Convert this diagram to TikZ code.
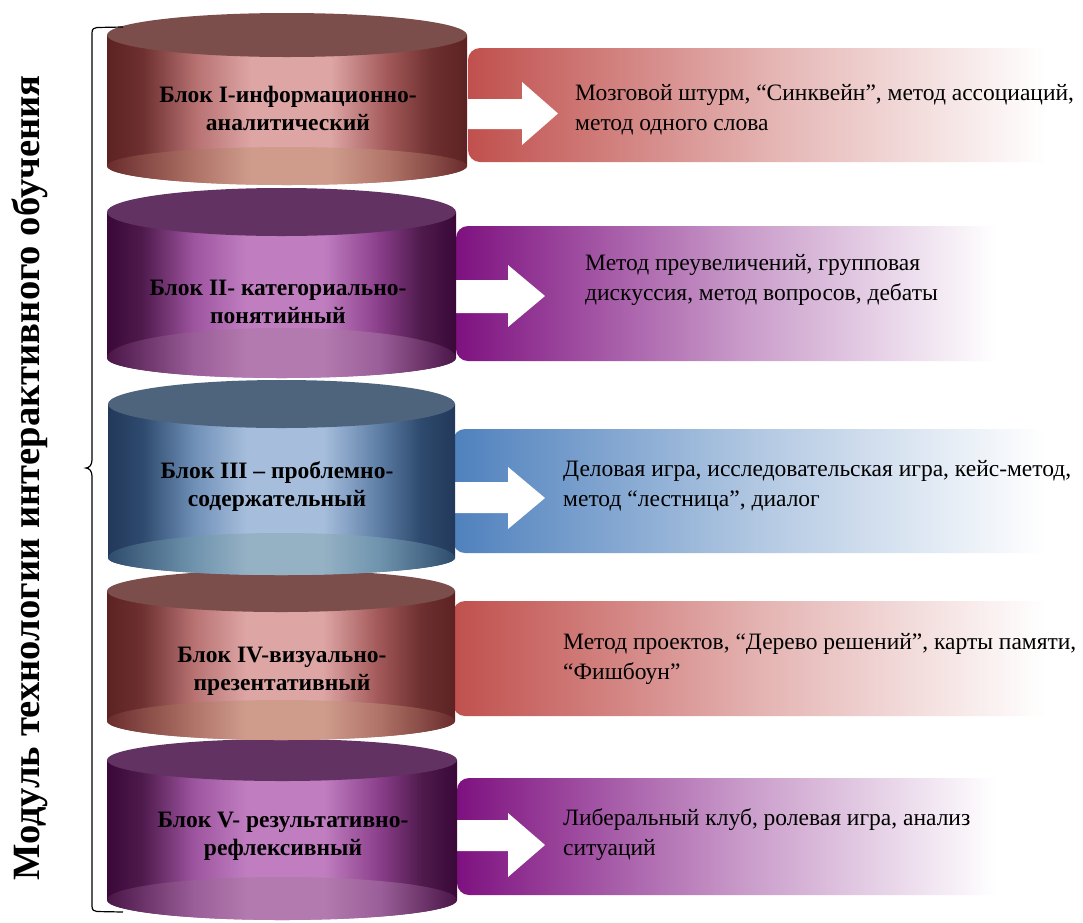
\documentclass[tikz,border=0pt]{standalone}
\usepackage{fontspec}
\setmainfont{Liberation Serif}
\definecolor{rdark}{HTML}{5C2222}
\definecolor{rdarkb}{HTML}{6E3030}
\definecolor{rmid}{HTML}{B87272}
\definecolor{rlight}{HTML}{DEA5A5}
\definecolor{rmidb}{HTML}{A25858}
\definecolor{rbdark}{HTML}{6A2C2C}
\definecolor{rbmid}{HTML}{B07468}
\definecolor{rblight}{HTML}{CF9C8C}
\definecolor{toprd}{HTML}{7B4D4B}
\definecolor{pdark}{HTML}{3A0938}
\definecolor{pdarkb}{HTML}{4E1A4C}
\definecolor{pmid}{HTML}{9E55A0}
\definecolor{plight}{HTML}{C07EC0}
\definecolor{pmidb}{HTML}{8A3E8A}
\definecolor{pbdark}{HTML}{4A1547}
\definecolor{pbmid}{HTML}{9A5E98}
\definecolor{pblight}{HTML}{B27AAE}
\definecolor{toppu}{HTML}{613262}
\definecolor{bdark}{HTML}{22395A}
\definecolor{bdarkb}{HTML}{2E4A6E}
\definecolor{bmid}{HTML}{7090B8}
\definecolor{blight}{HTML}{A6BEDC}
\definecolor{bmidb}{HTML}{5E7EA6}
\definecolor{bbdark}{HTML}{2E4C6D}
\definecolor{bbmid}{HTML}{7094AE}
\definecolor{bblight}{HTML}{95B1C4}
\definecolor{topbl}{HTML}{4E647C}
\definecolor{rectr}{HTML}{C0504D}
\definecolor{rectp}{HTML}{7E1180}
\definecolor{rectb}{HTML}{4F81BD}
\colorlet{rectrm}{rectr!42!white}
\colorlet{rectpm}{rectp!42!white}
\colorlet{rectbm}{rectb!42!white}
\pgfdeclarehorizontalshading{sidered}{100bp}{color(0bp)=(rdark); color(25bp)=(rdark); color(30bp)=(rdarkb); color(37.5bp)=(rmid); color(45bp)=(rlight); color(56bp)=(rlight); color(64bp)=(rmidb); color(70bp)=(rdarkb); color(75bp)=(rdark); color(100bp)=(rdark)}
\pgfdeclarehorizontalshading{bandred}{100bp}{color(0bp)=(rbdark); color(25bp)=(rbdark); color(37.5bp)=(rbmid); color(45bp)=(rblight); color(56bp)=(rblight); color(64bp)=(rbmid); color(75bp)=(rbdark); color(100bp)=(rbdark)}
\pgfdeclarehorizontalshading{sidepurple}{100bp}{color(0bp)=(pdark); color(25bp)=(pdark); color(30bp)=(pdarkb); color(37.5bp)=(pmid); color(45bp)=(plight); color(56bp)=(plight); color(64bp)=(pmidb); color(70bp)=(pdarkb); color(75bp)=(pdark); color(100bp)=(pdark)}
\pgfdeclarehorizontalshading{bandpurple}{100bp}{color(0bp)=(pbdark); color(25bp)=(pbdark); color(37.5bp)=(pbmid); color(45bp)=(pblight); color(56bp)=(pblight); color(64bp)=(pbmid); color(75bp)=(pbdark); color(100bp)=(pbdark)}
\pgfdeclarehorizontalshading{sideblue}{100bp}{color(0bp)=(bdark); color(25bp)=(bdark); color(30bp)=(bdarkb); color(37.5bp)=(bmid); color(45bp)=(blight); color(56bp)=(blight); color(64bp)=(bmidb); color(70bp)=(bdarkb); color(75bp)=(bdark); color(100bp)=(bdark)}
\pgfdeclarehorizontalshading{bandblue}{100bp}{color(0bp)=(bbdark); color(25bp)=(bbdark); color(37.5bp)=(bbmid); color(45bp)=(bblight); color(56bp)=(bblight); color(64bp)=(bbmid); color(75bp)=(bbdark); color(100bp)=(bbdark)}
\pgfdeclarehorizontalshading{fadered}{100bp}{color(0bp)=(rectr); color(25bp)=(rectr); color(50bp)=(rectrm); color(72bp)=(white); color(100bp)=(white)}
\pgfdeclarehorizontalshading{fadepurple}{100bp}{color(0bp)=(rectp); color(25bp)=(rectp); color(50bp)=(rectpm); color(72bp)=(white); color(100bp)=(white)}
\pgfdeclarehorizontalshading{fadeblue}{100bp}{color(0bp)=(rectb); color(25bp)=(rectb); color(50bp)=(rectbm); color(72bp)=(white); color(100bp)=(white)}
% #1 cx #2 rx #3 yt #4 ryt #5 yb #6 ryb #7 band ry #8 scheme
\newcommand\drawcyl[8]{%
  \path[shading=side#8] ({#1-#2},#3) -- ({#1-#2},#5)
    .. controls ({#1-#2},{#5+0.5523*#6}) and ({#1-0.5523*#2},{#5+#6}) .. (#1,{#5+#6})
    .. controls ({#1+0.5523*#2},{#5+#6}) and ({#1+#2},{#5+0.5523*#6}) .. ({#1+#2},#5)
    -- ({#1+#2},#3) -- cycle;
  \path[shading=band#8] ({#1-#2},#5)
    .. controls ({#1-#2},{#5-0.5523*#7}) and ({#1-0.5523*#2},{#5-#7}) .. (#1,{#5-#7})
    .. controls ({#1+0.5523*#2},{#5-#7}) and ({#1+#2},{#5-0.5523*#7}) .. ({#1+#2},#5)
    .. controls ({#1+#2},{#5+0.5523*#6}) and ({#1+0.5523*#2},{#5+#6}) .. (#1,{#5+#6})
    .. controls ({#1-0.5523*#2},{#5+#6}) and ({#1-#2},{#5+0.5523*#6}) .. ({#1-#2},#5) -- cycle;
  \fill[top#8] (#1,#3) ellipse [x radius=#2, y radius=#4];
}
% white block arrow: #1 x start, #2 head start x, #3 tip x, #4 body top, #5 body bottom, #6 head top, #7 head bottom
\newcommand\blockarrow[7]{%
  \fill[white] (#1,#4) -- (#2,#4) -- (#2,#6) -- (#3,{(#6+#7)/2}) -- (#2,#7) -- (#2,#5) -- (#1,#5) -- cycle;
}
\colorlet{topred}{toprd}
\colorlet{toppurple}{toppu}
\colorlet{topblue}{topbl}
\tikzset{
  methodbox/.style={rounded corners=12pt},
  blocklabel/.style={anchor=base, inner sep=0pt, font=\fontsize{23.5}{28}\selectfont\bfseries},
  methodtext/.style={anchor=base west, inner sep=0pt, font=\fontsize{23.5}{30}\selectfont},
  bracepath/.style={draw=black, line width=1.2pt},
}
\begin{document}
\begin{tikzpicture}[x=1pt,y=-1pt]
\useasboundingbox (0,0) rectangle (1083,922);
\fill[white] (0,0) rectangle (1083,922);
% method boxes
\path[methodbox, shading=fadered] (468,48) rectangle (1083,162);
\path[methodbox, shading=fadepurple] (456,226) rectangle (1030,361);
\path[methodbox, shading=fadeblue] (453,429) rectangle (1083,553);
\path[methodbox, shading=fadered] (453,601) rectangle (1083,716);
\path[methodbox, shading=fadepurple] (457,778) rectangle (1030,895);
% white arrows
\blockarrow{460}{522}{558}{99}{129}{82}{145}
\blockarrow{450}{508}{545}{280}{313}{265}{327}
\blockarrow{450}{508}{545}{482}{513}{467}{529}
\blockarrow{450}{508}{545}{820}{851}{813}{877}
% cylinders (lower first)
\drawcyl{282}{175}{760}{21}{900}{20}{23}{purple}
\drawcyl{281}{174}{591}{21}{721}{19}{21}{red}
\drawcyl{281.5}{173.5}{404}{24}{558}{17}{25}{blue}
\drawcyl{281.5}{174.5}{212}{24}{358}{20}{30}{purple}
\drawcyl{287}{180}{35}{22}{166}{19}{19}{red}
% cylinder labels
\node[blocklabel] (c1) at (288,102) {\begin{tabular}[t]{@{}c@{}}Блок I-информационно-\\аналитический\end{tabular}};
\node[blocklabel] (c2) at (278,295) {\begin{tabular}[t]{@{}c@{}}Блок II- категориально-\\понятийный\end{tabular}};
\node[blocklabel] (c3) at (277,478) {\begin{tabular}[t]{@{}c@{}}Блок III – проблемно-\\содержательный\end{tabular}};
\node[blocklabel] (c4) at (282,662) {\begin{tabular}[t]{@{}c@{}}Блок IV-визуально-\\презентативный\end{tabular}};
\node[blocklabel] (c5) at (283,827) {\begin{tabular}[t]{@{}c@{}}Блок V- результативно-\\рефлексивный\end{tabular}};
% method texts
\node[methodtext] (t1) at (575,100) {\begin{tabular}[t]{@{}l@{}}Мозговой штурм, “Синквейн”, метод ассоциаций,\\метод одного слова\end{tabular}};
\node[methodtext] (t2) at (585,270) {\begin{tabular}[t]{@{}l@{}}Метод преувеличений, групповая\\дискуссия, метод вопросов, дебаты\end{tabular}};
\node[methodtext] (t3) at (563,476) {\begin{tabular}[t]{@{}l@{}}Деловая игра, исследовательская игра, кейс-метод,\\метод “лестница”, диалог\end{tabular}};
\node[methodtext] (t4) at (563,649) {\begin{tabular}[t]{@{}l@{}}Метод проектов, “Дерево решений”, карты памяти,\\“Фишбоун”\end{tabular}};
\node[methodtext] (t5) at (563,825) {\begin{tabular}[t]{@{}l@{}}Либеральный клуб, ролевая игра, анализ\\ситуаций\end{tabular}};
% brace
\coordinate (bt) at (123,27);
\coordinate (bm) at (86,468);
\coordinate (bb) at (123,912);
\draw[bracepath] (bt) -- (97,27.5) .. controls (94,27.5) and (92,29) .. (92,33)
  -- (92,460) .. controls (92,465) and (89,468) .. (bm)
  .. controls (89,468) and (92,471) .. (92,476)
  -- (92,906) .. controls (92,910) and (94,911.5) .. (97,911.5) -- (bb);
% title
\node[rotate=90, inner sep=0pt, font=\fontsize{38.6}{44}\selectfont\bfseries] (title) at (30,478) {Модуль технологии интерактивного обучения};
\end{tikzpicture}
\end{document}
